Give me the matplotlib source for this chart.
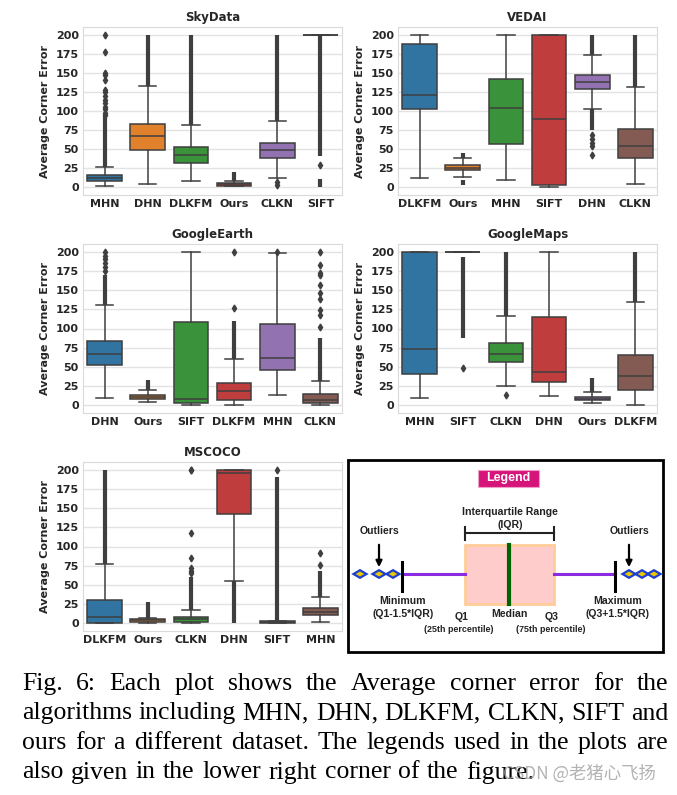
import matplotlib
matplotlib.use("Agg")
import matplotlib.pyplot as plt
from matplotlib.patches import Rectangle, Polygon

# ---- data (avg corner error) ----
sky_labels = ["MHN", "DHN", "DLKFM", "Ours", "CLKN", "SIFT"]
sky_q1 = [8.7, 48.5, 32, 2.2, 39, 200]
sky_med = [12, 66.7, 42, 3.9, 48.5, 200]
sky_q3 = [16, 82.7, 52.8, 6, 58, 200]
sky_lo = [1.7, 4.8, 7.8, 1.3, 12, 200]
sky_hi = [27, 132.5, 81.8, 8.2, 86.6, 200]
sky_fliers = [[95, 98, 102, 105, 110, 115, 120, 125, 128, 140, 147, 150, 177, 200], [], [], [], [6.5, 3.5], [29.4]]
sky_dense = [[(27, 93)], [(132.5, 200)], [(81.8, 200)], [(8.2, 20)], [(86.6, 200)], [(41, 200), (0.5, 11)]]

vedai_labels = ["DLKFM", "Ours", "MHN", "SIFT", "DHN", "CLKN"]
vedai_q1 = [102, 22.5, 57, 3.5, 129.4, 39]
vedai_med = [120.8, 26, 104.3, 89.6, 137.7, 53.7]
vedai_q3 = [188.3, 29, 142.4, 200, 146.8, 75.8]
vedai_lo = [12, 13, 10, 0.5, 103, 4.3]
vedai_hi = [200, 38, 200, 200, 173, 131]
vedai_fliers = [[], [], [], [], [69, 63, 58, 54, 43], []]
vedai_dense = [[], [(38, 45), (3, 10)], [], [], [(173, 200), (75, 103)], [(131, 200)]]

earth_labels = ["DHN", "Ours", "SIFT", "DLKFM", "MHN", "CLKN"]
earth_q1 = [52.2, 8.3, 2.6, 7, 45.6, 3]
earth_med = [67.4, 10.9, 8.7, 18.7, 61.3, 7]
earth_q3 = [83.9, 13, 108.3, 29, 106, 15.2]
earth_lo = [9, 4.8, 0.9, 0.9, 13.5, 0.9]
earth_hi = [130, 20, 200, 60.4, 198, 31.7]
earth_fliers = [[175, 180, 185, 190, 195, 200], [], [], [127, 200], [200],
                [102, 118, 124, 138, 146, 156, 170, 172, 183, 200]]
earth_dense = [[(130, 170)], [(20, 33)], [], [(60.4, 110)], [], [(31.7, 88)]]

maps_labels = ["MHN", "SIFT", "CLKN", "DHN", "Ours", "DLKFM"]
maps_q1 = [40.5, 200, 56.2, 30, 6.5, 20]
maps_med = [73.6, 200, 67, 43, 8.7, 38.8]
maps_q3 = [200, 200, 80.6, 115, 11, 66]
maps_lo = [9.6, 200, 24.8, 11.8, 3, 0.9]
maps_hi = [200, 200, 115.9, 200, 17.9, 135]
maps_fliers = [[], [49], [13], [], [], []]
maps_dense = [[], [(87, 193)], [(115.9, 200)], [], [(17.9, 35)], [(135, 200)]]

coco_labels = ["DLKFM", "Ours", "CLKN", "DHN", "SIFT", "MHN"]
coco_q1 = [0.9, 2.2, 1.7, 142.6, 0.4, 10.4]
coco_med = [8.7, 3.9, 5.7, 195.6, 1.3, 15.2]
coco_q3 = [30.9, 5.2, 8.7, 200, 2.6, 20.4]
coco_lo = [0.4, 0.9, 0.4, 55.7, 0.2, 2.2]
coco_hi = [77.4, 7, 17.8, 200, 3.5, 33.9]
coco_fliers = [[], [], [65, 68, 72, 85, 117, 199, 200], [], [200], [76.5, 90.9]]
coco_dense = [[(77.4, 200)], [(7, 28)], [(17.8, 60)], [(0.5, 55.7)], [(3.5, 190)], [(33.9, 68)]]

yticks = [0, 25, 50, 75, 100, 125, 150, 175, 200]

colors = ["#3274a1", "#e1812c", "#3a923a", "#c03d3e", "#9372b2", "#845b53"]
gray = "#3f3f3f"
txt = "#262626"

W, H = 677, 795
fig = plt.figure(figsize=(W / 100, H / 100), dpi=100)


def px_axes(x0, y0, x1, y1):
    return fig.add_axes([x0 / W, 1 - y1 / H, (x1 - x0) / W, (y1 - y0) / H])


def panel(ax, title, labels, q1, med, q3, lo, hi, fliers, dense):
    stats = []
    for i in range(len(labels)):
        stats.append(dict(med=med[i], q1=q1[i], q3=q3[i], whislo=lo[i], whishi=hi[i], fliers=fliers[i]))
    pos = list(range(len(labels)))
    # dense outlier columns first, so boxes sit on top
    for i, segs in enumerate(dense):
        for a, b in segs:
            ax.vlines(i, a, b, color=gray, lw=3.0, zorder=1.5)
    bp = ax.bxp(stats, positions=pos, widths=0.8, patch_artist=True, showfliers=True,
                boxprops=dict(edgecolor=gray, linewidth=1.1),
                medianprops=dict(color=gray, linewidth=1.1),
                whiskerprops=dict(color=gray, linewidth=1.1),
                capprops=dict(color=gray, linewidth=1.1),
                flierprops=dict(marker="d", markerfacecolor=gray, markeredgecolor=gray,
                                markersize=3.5, linestyle="none"))
    for patch, c in zip(bp["boxes"], colors):
        patch.set_facecolor(c)
    ax.set_xlim(-0.5, len(labels) - 0.5)
    ax.set_ylim(-10, 210)
    ax.set_yticks(yticks)
    ax.set_xticks(pos)
    ax.set_xticklabels(labels)
    ax.grid(axis="y", color="#e3e3e3", lw=1)
    ax.set_axisbelow(True)
    ax.tick_params(length=0, labelsize=8, colors=txt, pad=3)
    for lab in ax.get_xticklabels() + ax.get_yticklabels():
        lab.set_fontweight("bold")
    for s in ax.spines.values():
        s.set_color("#dadada")
    ax.set_ylabel("Average Corner Error", fontsize=8, fontweight="bold", color=txt, labelpad=4)
    ax.set_title(title, fontsize=8.5, fontweight="bold", color=txt, pad=4)


panel(px_axes(83, 27, 342, 195), "SkyData", sky_labels, sky_q1, sky_med, sky_q3, sky_lo, sky_hi, sky_fliers, sky_dense)
panel(px_axes(398, 27, 657, 195), "VEDAI", vedai_labels, vedai_q1, vedai_med, vedai_q3, vedai_lo, vedai_hi, vedai_fliers, vedai_dense)
panel(px_axes(83, 244, 342, 413), "GoogleEarth", earth_labels, earth_q1, earth_med, earth_q3, earth_lo, earth_hi, earth_fliers, earth_dense)
panel(px_axes(398, 244, 657, 413), "GoogleMaps", maps_labels, maps_q1, maps_med, maps_q3, maps_lo, maps_hi, maps_fliers, maps_dense)
panel(px_axes(83, 462, 342, 631), "MSCOCO", coco_labels, coco_q1, coco_med, coco_q3, coco_lo, coco_hi, coco_fliers, coco_dense)

# ---- overlay in pixel coords: legend diagram + caption ----
ov = fig.add_axes([0, 0, 1, 1])
ov.set_xlim(0, W)
ov.set_ylim(H, 0)
ov.axis("off")

lf = "Liberation Sans"
ink = "#222222"
ov.add_patch(Rectangle((348, 460), 315, 192, fill=False, edgecolor="black", lw=2))
ov.add_patch(Rectangle((478, 470), 61, 17, facecolor="#d6157a", edgecolor="#f0a0c8", lw=0.8))
ov.text(508.5, 478.5, "Legend", color="white", fontsize=9, fontweight="bold", family=lf, ha="center", va="center")

big = dict(fontsize=7.6, fontweight="bold", family=lf, ha="center", va="center", color=ink)
small = dict(fontsize=6.4, fontweight="bold", family=lf, ha="center", va="center", color=ink)

ov.text(510, 512, "Interquartile Range", **big)
ov.text(510, 525, "(IQR)", **big)
ov.plot([465, 554], [533, 533], color=ink, lw=1.5)
ov.plot([465, 465], [527, 540], color=ink, lw=1.5)
ov.plot([554, 554], [527, 540], color=ink, lw=1.5)

yl = 574
ov.plot([402, 465], [yl, yl], color="#8a2be2", lw=2.2)
ov.plot([554, 615], [yl, yl], color="#8a2be2", lw=2.2)
ov.add_patch(Rectangle((465, 545), 89, 59, facecolor="#ffcccc", edgecolor="#ffcc99", lw=2))
ov.plot([509, 509], [545, 604], color="#006400", lw=3)
ov.plot([402, 402], [562, 591], color="black", lw=2.2)
ov.plot([615, 615], [562, 591], color="black", lw=2.2)
for xd in [360, 379, 393, 629, 642, 654]:
    ov.add_patch(Polygon([(xd - 6.5, yl), (xd, yl - 3.8), (xd + 6.5, yl), (xd, yl + 3.8)],
                         facecolor="#e8c800", edgecolor="#1f3fd0", lw=1.6, zorder=5))

for xo in [379, 629]:
    ov.text(xo, 531, "Outliers", **big)
    ov.annotate("", xy=(xo, 570), xytext=(xo, 542),
                arrowprops=dict(arrowstyle="-|>", color="black", lw=1.6, mutation_scale=9))

ov.text(403, 601, "Minimum", **big)
ov.text(403, 614, "(Q1-1.5*IQR)", **big)
ov.text(618, 601, "Maximum", **big)
ov.text(618, 614, "(Q3+1.5*IQR)", **big)
ov.text(462, 617, "Q1", **big)
ov.text(552, 617, "Q3", **big)
ov.text(509, 614, "Median", **big)
ov.text(459, 629, "(25th percentile)", **small)
ov.text(551, 629, "(75th percentile)", **small)

# caption, justified word by word
caption = [
    "Fig. 6: Each plot shows the Average corner error for the",
    "algorithms including MHN, DHN, DLKFM, CLKN, SIFT and",
    "ours for a different dataset. The legends used in the plots are",
    "also given in the lower right corner of the figure.",
]
cap_size = 18.5
cx0, cx1 = 22, 668
fig.canvas.draw()
rend = fig.canvas.get_renderer()
for k, line in enumerate(caption):
    yb = 690 + k * 29.5
    words = line.split(" ")
    objs = [ov.text(0, yb, w, fontsize=cap_size, family="Liberation Serif", color="black", va="baseline")
            for w in words]
    widths = [o.get_window_extent(rend).width for o in objs]
    if k < len(caption) - 1:
        gap = (cx1 - cx0 - sum(widths)) / (len(words) - 1)
    else:
        gap = 7.5
    x = cx0
    for o, w in zip(objs, widths):
        o.set_x(x)
        x += w + gap

# watermark sits over the end of the caption, as in the reference
ov.text(503, 779, "CSDN @老猪心飞扬", fontsize=12.5, color="#a0a0a0", alpha=0.8,
        family=["Noto Sans CJK SC", "DejaVu Sans"], va="baseline")

fig.savefig("out.png", dpi=100)
